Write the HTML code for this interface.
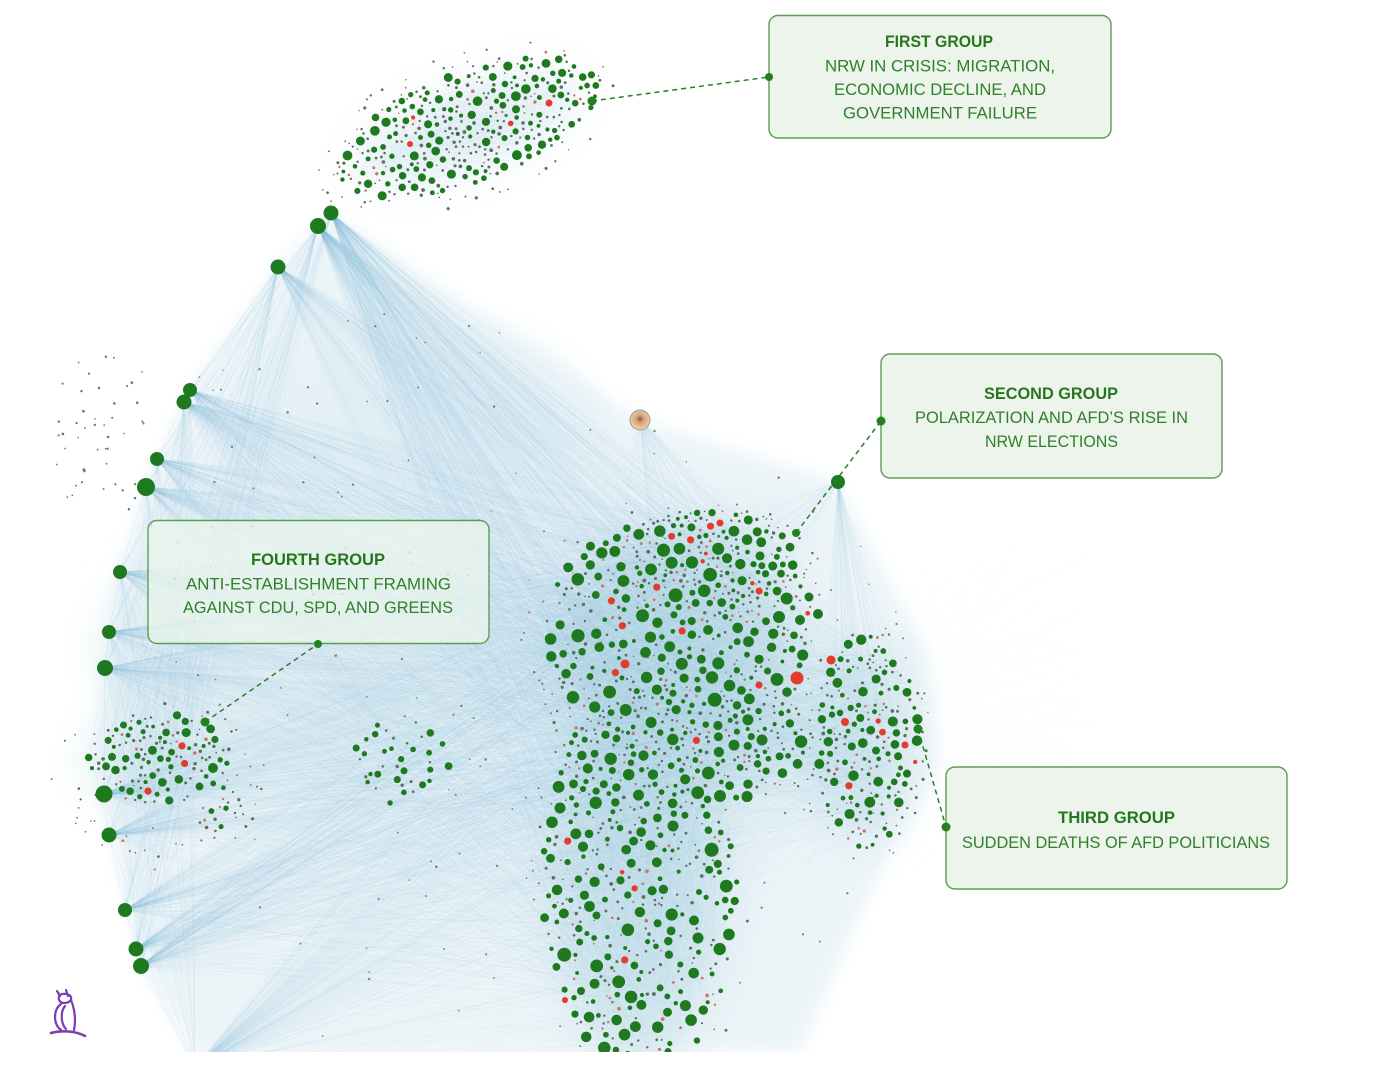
<!DOCTYPE html>
<html><head><meta charset="utf-8">
<style>
html,body{margin:0;padding:0;background:#fff;}
#wrap{position:relative;width:1400px;height:1078px;overflow:hidden;background:#fff;}
svg{position:absolute;left:0;top:0;}
.t{font-family:"Liberation Sans",Arial,sans-serif;font-size:17px;fill:#2e8029;}
.b{font-weight:bold;fill:#27761f;}
</style></head><body><div id="wrap">
<svg id="net" width="1400" height="1078" viewBox="0 0 1400 1078" xmlns="http://www.w3.org/2000/svg">
<defs>
<clipPath id="cp"><rect x="0" y="0" width="1400" height="1052"/></clipPath>
<filter id="bl1" x="-50%" y="-50%" width="200%" height="200%"><feGaussianBlur stdDeviation="22"/></filter>
<filter id="bl2" x="-20%" y="-20%" width="140%" height="140%"><feGaussianBlur stdDeviation="8"/></filter>
<radialGradient id="ph" cx="50%" cy="45%" r="55%"><stop offset="0" stop-color="#8a5a3a"/><stop offset="0.35" stop-color="#d9a47a"/><stop offset="1" stop-color="#f0d2b0"/></radialGradient>
</defs>
<g clip-path="url(#cp)">
 <g filter="url(#bl2)" opacity="0.85">
  <polygon fill="#e9f3f7" points="331,213 640,420 838,482 925,650 935,770 880,870 800,1052 200,1060 141,965 103,794 104,667 119,572 145,487 189,391 278,267"/>
 </g>
 <g filter="url(#bl1)" opacity="0.9">
  <ellipse cx="680" cy="640" rx="125" ry="105" fill="#cfe3ec"/>
  <ellipse cx="690" cy="740" rx="110" ry="60" fill="#cfe3ec"/>
  <ellipse cx="640" cy="880" rx="88" ry="185" fill="#d3e6ee"/>
  <ellipse cx="865" cy="740" rx="48" ry="100" fill="#d6e8ef"/>
  <ellipse cx="715" cy="560" rx="75" ry="45" fill="#d8e9f0"/>
  <ellipse cx="165" cy="760" rx="80" ry="50" fill="#dcecf2"/>
  <ellipse cx="420" cy="420" rx="160" ry="90" fill="#e4f0f5"/>
  <ellipse cx="300" cy="650" rx="200" ry="120" fill="#e2eff4"/>
  <ellipse cx="468" cy="128" rx="120" ry="45" transform="rotate(-20 468 128)" fill="#eaf3f7"/>
 </g>
 <g id="edges"></g>
 <g id="nodes"></g>
 <g fill="#1f7a1f">
  <circle cx="331" cy="213" r="7.5"/><circle cx="318" cy="226" r="8"/><circle cx="278" cy="267" r="7.5"/>
  <circle cx="190" cy="390" r="7"/><circle cx="184" cy="402" r="7.5"/>
  <circle cx="157" cy="459" r="7"/><circle cx="146" cy="487" r="9"/>
  <circle cx="120" cy="572" r="7"/><circle cx="109" cy="632" r="7"/><circle cx="105" cy="668" r="8"/>
  <circle cx="104" cy="794" r="8.5"/><circle cx="109" cy="835" r="7.5"/>
  <circle cx="125" cy="910" r="7"/><circle cx="136" cy="949" r="7.5"/><circle cx="141" cy="966" r="8"/>
  <circle cx="838" cy="482" r="7"/>
 </g>
 <circle cx="640" cy="420" r="10" fill="url(#ph)" stroke="#9a9a9a" stroke-width="1"/>
</g>

<!-- owl logo -->
<g fill="none" stroke="#7b3cb4" stroke-width="2.2" stroke-linecap="round">
 <path d="M57,991 L60,996 M66,990 L68,996"/>
 <path d="M59,996 C61,993 69,993 71,997 C72,1000 69,1003 64,1003 C60,1003 58,1000 59,996 Z"/>
 <path d="M61,1004 C53,1010 53,1024 61,1030"/>
 <path d="M65,1006 C60,1012 61,1024 66,1029"/>
 <path d="M71,1000 C75,1010 76,1020 74,1030"/>
 <path d="M51,1033 C62,1030 76,1031 85,1036" stroke-width="2.6"/>
</g>

<!-- connectors -->
<g stroke="#2a7d2a" stroke-width="1.5" stroke-dasharray="5,4" fill="none">
 <line x1="592" y1="101" x2="769" y2="77"/>
 <line x1="796" y1="533" x2="881" y2="421"/>
 <line x1="918" y1="729" x2="946" y2="827"/>
 <line x1="205" y1="722" x2="318" y2="644"/>
</g>

<!-- boxes -->
<rect x="769" y="15.5" width="342" height="122.5" rx="9" fill="#edf4ec" stroke="#5c9e51" stroke-width="1.4"/>
<rect x="881" y="354" width="341" height="124" rx="9" fill="#edf4ec" stroke="#5c9e51" stroke-width="1.4"/>
<rect x="946" y="767" width="341" height="122" rx="9" fill="#edf4ec" stroke="#5c9e51" stroke-width="1.4"/>
<rect x="148" y="520.5" width="341" height="123" rx="9" fill="rgba(236,245,235,0.72)" stroke="#5c9e51" stroke-width="1.4"/>

<g fill="#22801f">
 <circle cx="592" cy="101" r="4.5"/><circle cx="769" cy="77" r="4"/>
 <circle cx="796" cy="533" r="4"/><circle cx="881" cy="421" r="4.5"/>
 <circle cx="918" cy="729" r="4.5"/><circle cx="946" cy="827" r="4.5"/>
 <circle cx="205" cy="722" r="4.5"/><circle cx="318" cy="644" r="4"/>
</g>

<text class="t b" x="885" y="47" textLength="108" lengthAdjust="spacingAndGlyphs">FIRST GROUP</text>
<text class="t" x="825" y="71.5" textLength="230" lengthAdjust="spacingAndGlyphs">NRW IN CRISIS: MIGRATION,</text>
<text class="t" x="834" y="95" textLength="212" lengthAdjust="spacingAndGlyphs">ECONOMIC DECLINE, AND</text>
<text class="t" x="843" y="118.5" textLength="194" lengthAdjust="spacingAndGlyphs">GOVERNMENT FAILURE</text>

<text class="t b" x="984" y="399" textLength="134" lengthAdjust="spacingAndGlyphs">SECOND GROUP</text>
<text class="t" x="915" y="423" textLength="273" lengthAdjust="spacingAndGlyphs">POLARIZATION AND AFD’S RISE IN</text>
<text class="t" x="985" y="447" textLength="133" lengthAdjust="spacingAndGlyphs">NRW ELECTIONS</text>

<text class="t b" x="1058" y="823" textLength="117" lengthAdjust="spacingAndGlyphs">THIRD GROUP</text>
<text class="t" x="962" y="848" textLength="308" lengthAdjust="spacingAndGlyphs">SUDDEN DEATHS OF AFD POLITICIANS</text>

<text class="t b" x="251" y="565" textLength="134" lengthAdjust="spacingAndGlyphs">FOURTH GROUP</text>
<text class="t" x="186" y="589.5" textLength="265" lengthAdjust="spacingAndGlyphs">ANTI-ESTABLISHMENT FRAMING</text>
<text class="t" x="183" y="613" textLength="270" lengthAdjust="spacingAndGlyphs">AGAINST CDU, SPD, AND GREENS</text>
</svg>
</div>
<script>
(function(){
function mul(a){return function(){a|=0;a=a+0x6D2B79F5|0;var t=Math.imul(a^a>>>15,1|a);t=t+Math.imul(t^t>>>7,61|t)^t;return((t^t>>>14)>>>0)/4294967296;};}
var R=mul(20240611);
function inE(e,pw){var a=R()*6.2832,r=Math.pow(R(),pw==null?0.5:pw);var x=Math.cos(a)*r*e.rx,y=Math.sin(a)*r*e.ry;
 if(e.rot){var c=Math.cos(e.rot),s=Math.sin(e.rot),nx=x*c-y*s,ny=x*s+y*c;x=nx;y=ny;}return [e.cx+x,e.cy+y];}
var MAIN=[{cx:680,cy:630,rx:125,ry:105,w:330},{cx:690,cy:740,rx:110,ry:60,w:160},{cx:640,cy:880,rx:90,ry:185,w:330},{cx:865,cy:740,rx:50,ry:100,w:150},{cx:715,cy:560,rx:75,ry:45,w:100}];
var MW=0;MAIN.forEach(function(e){MW+=e.w;});
function pm(pw){var v=R()*MW;for(var i=0;i<MAIN.length;i++){v-=MAIN[i].w;if(v<=0)return inE(MAIN[i],pw);}return inE(MAIN[0],pw);}
function grow(e,k){return {cx:e.cx,cy:e.cy,rx:e.rx*k,ry:e.ry*k,rot:e.rot};}
var LC={cx:160,cy:758,rx:72,ry:46},MID={cx:400,cy:760,rx:50,ry:45},TOP={cx:468,cy:128,rx:130,ry:52,rot:-0.36};
function f(v){return v.toFixed(1);}
var groups=[];
function G(style,arr){groups.push('<g '+style+'>'+arr.join('')+'</g>');}
function L(a,b){return '<line x1="'+f(a[0])+'" y1="'+f(a[1])+'" x2="'+f(b[0])+'" y2="'+f(b[1])+'"/>';}
var HL=[[190,390],[184,402],[157,459],[146,487],[120,572],[109,632],[105,668],[104,794],[109,835],[125,910],[136,949],[141,966]];
var TH=[[331,213],[318,226],[278,267]];
var fan=[];
HL.forEach(function(h){for(var i=0;i<170;i++)fan.push(L(h,pm(0.5)));for(var j=0;j<35;j++)fan.push(L(h,R()<0.7?inE(LC,0.8):inE(MID,0.6)));});
TH.forEach(function(h,k){var n=k<2?300:170;for(var i=0;i<n;i++)fan.push(L(h,pm(0.5)));for(var j=0;j<25;j++)fan.push(L(h,inE(LC,0.8)));});
var BH=[195,1068];for(var i=0;i<240;i++)fan.push(L(BH,pm(0.5)));
var PH=[640,420];for(i=0;i<90;i++)fan.push(L(PH,inE(R()<0.6?MAIN[4]:MAIN[0],0.6)));
var SH=[838,482];for(i=0;i<110;i++)fan.push(L(SH,R()<0.6?inE(MAIN[3],0.6):inE(MAIN[0],0.6)));
G('stroke="#86bcd4" stroke-width="0.55" stroke-opacity="0.075"',fan);
var bd=[];
HL.forEach(function(h){for(var j=0;j<6;j++){bd.push(L(TH[2],h));bd.push(L(TH[1],h));}for(j=0;j<4;j++)bd.push(L(h,BH));});
for(i=0;i<HL.length-1;i++){for(var j=0;j<5;j++)bd.push(L(HL[i],HL[i+1]));}
G('stroke="#8cc0d6" stroke-width="0.5" stroke-opacity="0.06"',bd);
var inn=[];
for(i=0;i<3200;i++)inn.push(L(pm(0.55),pm(0.55)));
for(i=0;i<350;i++)inn.push(L(inE(LC,0.8),R()<0.5?inE(LC,0.8):pm(0.5)));
for(i=0;i<80;i++){var a=inE(MAIN[3],0.6);inn.push(L(a,[920+R()*180,540+R()*260]));}
G('stroke="#95c5da" stroke-width="0.5" stroke-opacity="0.055"',inn);
var tin=[];for(i=0;i<700;i++)tin.push(L(inE(TOP,0.55),inE(TOP,0.55)));
G('stroke="#a5cfe0" stroke-width="0.5" stroke-opacity="0.07"',tin);
document.getElementById('edges').innerHTML=groups.join('');
var nd=[];
function ok(x,y,r){for(var q=0;q<nd.length;q++){var d=nd[q];var dx=d[0]-x,dy=d[1]-y,m=d[2]+r+1.6;if(dx*dx+dy*dy<m*m)return false;}return true;}
function dots(e,n,pw,rmax,redP,rmin){rmin=rmin||1.2;for(var k=0;k<n;k++){var r=rmin+(rmax-rmin)*Math.pow(R(),2.3);var c;
 if(r<1.9)c=(R()<0.15?'#c9746a':'#5d6e5d');else if(R()<redP){c='#e53b2c';r=Math.min(r,3.6);}else c='#1f7a1f';
 for(var tr=0;tr<25;tr++){var p=inE(e,pw);if(ok(p[0],p[1],r)){nd.push([p[0],p[1],r,c]);break;}}}}
function pip(x,y,poly){var ins=false;for(var i=0,j=poly.length-1;i<poly.length;j=i++){var xi=poly[i][0],yi=poly[i][1],xj=poly[j][0],yj=poly[j][1];if(((yi>y)!=(yj>y))&&(x<(xj-xi)*(y-yi)/(yj-yi)+xi))ins=!ins;}return ins;}
var HULL=[[331,213],[640,420],[838,482],[925,650],[935,770],[880,870],[800,1052],[200,1060],[141,965],[103,794],[104,667],[119,572],[145,487],[189,391],[278,267]];
nd.push([797,678,6.5,'#e53b2c'],[831,660,4.5,'#e53b2c'],[625,664,4.5,'#e53b2c'],[720,523,3.5,'#e53b2c'],[845,722,4,'#e53b2c'],[905,745,3.5,'#e53b2c'],[565,1000,3,'#e53b2c'],[549,103,3.5,'#e53b2c'],[410,144,3,'#e53b2c']);
nd.push([779,617,6,'#1f7a1f'],[800,620,5,'#1f7a1f'],[818,614,5,'#1f7a1f'],[720,796,6,'#1f7a1f'],[698,938,5.5,'#1f7a1f'],[673,826,5.5,'#1f7a1f'],[560,808,5.5,'#1f7a1f'],[762,740,5.5,'#1f7a1f'],[809,597,4.5,'#1f7a1f'],[213,768,5,'#1f7a1f']);
dots(grow(MAIN[0],1.08),300,0.6,7,0.06);dots(grow(MAIN[1],1.08),150,0.6,6.5,0.03);dots(grow(MAIN[2],1.08),300,0.6,7,0.02);dots(grow(MAIN[3],1.08),160,0.6,5.5,0.04);dots(grow(MAIN[4],1.08),100,0.6,5,0.1);
dots(LC,120,0.9,4.6,0.02);dots({cx:225,cy:812,rx:30,ry:25},16,0.6,3.5,0);dots(MID,38,0.6,4,0);
dots(grow(TOP,1.05),320,0.62,5,0.05);
MAIN.forEach(function(e){dots(grow(e,1.3),55,0.5,1.6,0.12,0.8);});
dots({cx:160,cy:780,rx:110,ry:80},50,0.5,1.6,0,0.8);
dots({cx:468,cy:128,rx:160,ry:75,rot:-0.36},80,0.5,1.6,0.12,0.8);
for(i=0;i<45;i++)nd.push([55+R()*90,355+R()*165,0.8+R()*0.6,'#6d776d']);
var cnt=0;while(cnt<160){var p=[150+R()*760,300+R()*750];if(pip(p[0],p[1],HULL)){nd.push([p[0],p[1],0.7+R()*0.6,'#7a857a']);cnt++;}}
nd.sort(function(a,b){return a[2]-b[2];});
var s=[];nd.forEach(function(d){s.push('<circle cx="'+f(d[0])+'" cy="'+f(d[1])+'" r="'+d[2].toFixed(2)+'" fill="'+d[3]+'"/>');});
document.getElementById('nodes').innerHTML=s.join('');
})();
</script>
</body></html>
